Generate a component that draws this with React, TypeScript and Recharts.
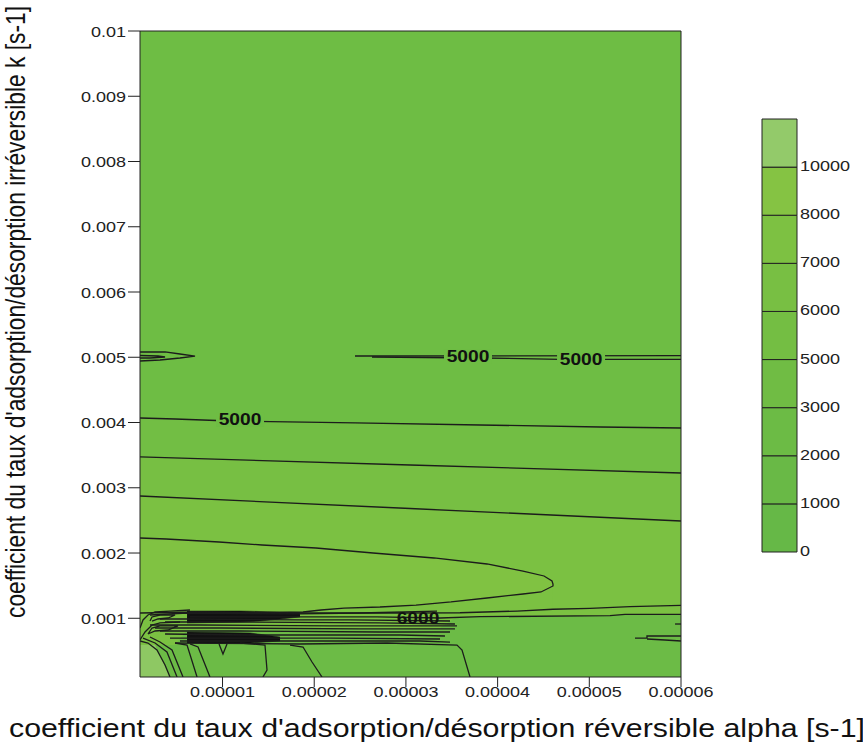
import React from 'react';
import { ComposedChart, Area, Line, Scatter, XAxis, YAxis, BarChart, Bar } from 'recharts';

type Pt = [number, number];
type BandPt = [number, number, number];

const FONT = '"Liberation Sans", Arial, Helvetica, sans-serif';

// axes
const alphaDomain: [number, number] = [1e-6, 6e-5];
const kDomain: [number, number] = [1e-4, 1e-2];
const xTicks = [1e-5, 2e-5, 3e-5, 4e-5, 5e-5, 6e-5];
const xTickLabels = ['0.00001', '0.00002', '0.00003', '0.00004', '0.00005', '0.00006'];
const yTicks = [0.001, 0.002, 0.003, 0.004, 0.005, 0.006, 0.007, 0.008, 0.009, 0.01];
const yTickLabels = ['0.001', '0.002', '0.003', '0.004', '0.005', '0.006', '0.007', '0.008', '0.009', '0.01'];

// colour scale (bottom -> top)
const colorbarLabels = ['0', '1000', '2000', '3000', '5000', '6000', '7000', '8000', '10000'];
const colorbarColors = ['#66b847', '#69b946', '#6cbb45', '#70bc44', '#74be43', '#78bf43', '#7dc142', '#85c343', '#93ca6a'];

// contour lines, [alpha, k]
const lensTop: Pt[] = [[1.0e-6, 5.081e-3], [3.73e-6, 5.081e-3], [5.36e-6, 5.05e-3], [7.0e-6, 5.019e-3], [5.36e-6, 4.989e-3], [3.18e-6, 4.958e-3], [1.0e-6, 4.943e-3]];
const lensTopInner: Pt[] = [[1.0e-6, 5.027e-3], [2.96e-6, 5.019e-3], [3.73e-6, 5.004e-3], [2.09e-6, 4.989e-3], [1.0e-6, 4.989e-3]];
const line5000a: Pt[] = [[24.45e-6, 5.019e-3], [60.0e-6, 5.024e-3]];
const line5000b: Pt[] = [[26.3e-6, 5.004e-3], [38.08e-6, 4.989e-3], [46.81e-6, 4.969e-3], [60.0e-6, 4.969e-3]];
const line5000c: Pt[] = [[1.0e-6, 4.069e-3], [4.82e-6, 4.054e-3], [10.82e-6, 4.023e-3], [24.45e-6, 3.993e-3], [38.08e-6, 3.962e-3], [51.17e-6, 3.931e-3], [60.0e-6, 3.916e-3]];
const contourC: Pt[] = [[1.0e-6, 3.472e-3], [30.45e-6, 3.349e-3], [60.0e-6, 3.226e-3]];
const contourD: Pt[] = [[1.0e-6, 2.874e-3], [30.45e-6, 2.682e-3], [60.0e-6, 2.491e-3]];
const noseUpper: Pt[] = [[1.0e-6, 2.23e-3], [3.84e-6, 2.215e-3], [9.62e-6, 2.169e-3], [14.31e-6, 2.123e-3], [20.19e-6, 2.077e-3], [26.41e-6, 2.0e-3], [33.06e-6, 1.924e-3], [38.84e-6, 1.832e-3], [42.77e-6, 1.724e-3], [45.06e-6, 1.648e-3], [45.93e-6, 1.571e-3], [46.04e-6, 1.525e-3]];
const noseLower: Pt[] = [[1.0e-6, 1.081e-3], [7.54e-6, 1.096e-3], [13.0e-6, 1.081e-3], [18.78e-6, 1.096e-3], [20.74e-6, 1.127e-3], [23.25e-6, 1.157e-3], [27.17e-6, 1.173e-3], [31.1e-6, 1.203e-3], [34.92e-6, 1.25e-3], [38.84e-6, 1.311e-3], [42.77e-6, 1.372e-3], [44.73e-6, 1.403e-3], [46.04e-6, 1.495e-3]];
const contourF: Pt[] = [[6.45e-6, 1.096e-3], [18.45e-6, 1.081e-3], [29.36e-6, 1.081e-3], [35.9e-6, 1.085e-3], [42.12e-6, 1.111e-3], [46.04e-6, 1.138e-3], [50.08e-6, 1.153e-3], [54.44e-6, 1.177e-3], [60.0e-6, 1.198e-3]];
const line6000: Pt[] = [[6.45e-6, 1.02e-3], [18.45e-6, 1.02e-3], [26.85e-6, 1.02e-3], [33.72e-6, 1.004e-3], [38.08e-6, 1.024e-3], [52.26e-6, 1.04e-3], [53.89e-6, 1.061e-3], [60.0e-6, 1.061e-3]];
const dense1: Pt[] = [[2.09e-6, 1.05e-3], [6.13e-6, 1.081e-3], [18.45e-6, 1.066e-3], [24.99e-6, 1.081e-3], [33.39e-6, 1.111e-3]];
const dense2: Pt[] = [[3.18e-6, 0.989e-3], [6.13e-6, 0.989e-3], [18.45e-6, 0.974e-3], [23.9e-6, 0.974e-3], [34.81e-6, 0.958e-3]];
const dense3: Pt[] = [[3.73e-6, 0.943e-3], [10.82e-6, 0.943e-3], [27.17e-6, 0.928e-3], [35.35e-6, 0.912e-3]];
const dense4: Pt[] = [[2.09e-6, 0.897e-3], [7.54e-6, 0.897e-3], [21.72e-6, 0.882e-3], [35.57e-6, 0.882e-3]];
const dense5: Pt[] = [[2.64e-6, 0.851e-3], [9.72e-6, 0.851e-3], [24.99e-6, 0.836e-3], [35.35e-6, 0.836e-3]];
const dense6: Pt[] = [[3.18e-6, 0.805e-3], [11.91e-6, 0.805e-3], [27.17e-6, 0.79e-3], [34.81e-6, 0.79e-3]];
const dense7: Pt[] = [[3.73e-6, 0.759e-3], [13.0e-6, 0.744e-3], [29.36e-6, 0.744e-3], [34.26e-6, 0.728e-3]];
const dense8: Pt[] = [[4.27e-6, 0.697e-3], [14.09e-6, 0.697e-3], [21.72e-6, 0.697e-3], [33.72e-6, 0.682e-3]];
const dense9: Pt[] = [[5.36e-6, 0.652e-3], [18.45e-6, 0.652e-3], [31.54e-6, 0.652e-3], [34.81e-6, 0.636e-3]];
const denseEdge: Pt[] = [[4.82e-6, 0.621e-3], [18.45e-6, 0.606e-3], [27.94e-6, 0.621e-3], [35.57e-6, 0.59e-3], [36.12e-6, 0.514e-3], [36.99e-6, 0.1e-3]];
const loopOuter: Pt[] = [[1.0e-6, 0.851e-3], [1.33e-6, 0.974e-3], [1.87e-6, 1.05e-3], [2.64e-6, 1.096e-3], [4.27e-6, 1.111e-3], [6.45e-6, 1.127e-3]];
const loop1: Pt[] = [[2.09e-6, 0.958e-3], [2.31e-6, 1.02e-3], [3.18e-6, 1.05e-3], [4.82e-6, 1.05e-3], [4.05e-6, 1.004e-3], [2.96e-6, 0.989e-3], [2.31e-6, 0.958e-3]];
const loop2: Pt[] = [[1.87e-6, 0.759e-3], [2.31e-6, 0.851e-3], [3.18e-6, 0.882e-3], [5.14e-6, 0.882e-3], [4.05e-6, 0.82e-3], [2.64e-6, 0.805e-3], [1.87e-6, 0.759e-3]];
const loop2Outer: Pt[] = [[1.0e-6, 0.667e-3], [1.55e-6, 0.79e-3], [2.31e-6, 0.897e-3], [3.18e-6, 0.928e-3], [5.36e-6, 0.943e-3]];
const diag1: Pt[] = [[1.0e-6, 0.652e-3], [1.87e-6, 0.621e-3], [2.85e-6, 0.514e-3], [3.73e-6, 0.284e-3], [4.27e-6, 0.1e-3]];
const diag2: Pt[] = [[1.33e-6, 0.697e-3], [2.64e-6, 0.621e-3], [3.94e-6, 0.483e-3], [5.04e-6, 0.1e-3]];
const diag3: Pt[] = [[2.09e-6, 0.713e-3], [3.18e-6, 0.636e-3], [4.49e-6, 0.514e-3], [5.69e-6, 0.1e-3]];
const diag4: Pt[] = [[4.82e-6, 0.621e-3], [6.13e-6, 0.59e-3], [7.22e-6, 0.1e-3]];
const diag5: Pt[] = [[6.45e-6, 0.606e-3], [7.33e-6, 0.56e-3], [8.63e-6, 0.1e-3]];
const notch: Pt[] = [[9.62e-6, 0.606e-3], [10.05e-6, 0.453e-3], [10.49e-6, 0.606e-3]];
const drop1: Pt[] = [[11.91e-6, 0.621e-3], [14.63e-6, 0.59e-3], [14.85e-6, 0.207e-3], [14.41e-6, 0.1e-3]];
const drop2: Pt[] = [[17.36e-6, 0.59e-3], [18.78e-6, 0.56e-3], [19.76e-6, 0.33e-3], [20.85e-6, 0.1e-3]];
const rightLens1: Pt[] = [[54.98e-6, 0.697e-3], [56.29e-6, 0.697e-3], [56.29e-6, 0.728e-3], [60.0e-6, 0.728e-3]];
const rightLens2: Pt[] = [[56.29e-6, 0.682e-3], [58.25e-6, 0.667e-3], [60.0e-6, 0.652e-3]];
const rightTick: Pt[] = [[59.35e-6, 0.912e-3], [60.0e-6, 0.912e-3]];

// zone boundaries used for the fills
const plotTop: Pt[] = [[1.0e-6, 1.0e-2], [60.0e-6, 1.0e-2]];
const darkZone: Pt[] = [[1.0e-6, 0.59e-3], [4.82e-6, 0.59e-3], [6.13e-6, 0.82e-3], [33.72e-6, 0.851e-3], [35.35e-6, 1.004e-3], [38.08e-6, 1.024e-3], [52.26e-6, 1.04e-3], [53.89e-6, 1.061e-3], [60.0e-6, 1.061e-3]];
const cornerZone: Pt[] = [[1.0e-6, 0.59e-3], [2.64e-6, 0.59e-3], [4.27e-6, 0.1e-3]];
const blackBand1: BandPt[] = [[6.13e-6, 0.928e-3, 1.111e-3], [11.91e-6, 0.943e-3, 1.111e-3], [14.09e-6, 0.958e-3, 1.104e-3], [18.45e-6, 1.02e-3, 1.089e-3]];
const blackBand2: BandPt[] = [[6.13e-6, 0.621e-3, 0.79e-3], [13.0e-6, 0.621e-3, 0.774e-3], [16.27e-6, 0.652e-3, 0.713e-3]];

// contour labels
const contourLabels = [
  { a: 36.77e-6, k: 5.012e-3, text: '5000' },
  { a: 49.1e-6, k: 4.966e-3, text: '5000' },
  { a: 11.91e-6, k: 4.039e-3, text: '5000' },
  { a: 31.32e-6, k: 0.989e-3, text: '6000' },
];

const zone = {
  top: '#6ebd44',
  bc: '#72be44',
  cd: '#77bf43',
  dn: '#7bc142',
  nose: '#80c242',
  dark: '#6cbb46',
  corner: '#8ec863',
};

const toRows = (pts: Pt[]) => pts.map(([a, k]) => ({ a, k }));
const toBand = (pts: BandPt[]) => pts.map(([a, lo, hi]) => ({ a, range: [lo, hi] }));

const fills = [
  { pts: plotTop, fill: zone.top },
  { pts: line5000c, fill: zone.bc },
  { pts: contourC, fill: zone.cd },
  { pts: contourD, fill: zone.dn },
  { pts: noseUpper, fill: zone.nose },
  { pts: noseLower, fill: zone.dn },
  { pts: darkZone, fill: zone.dark },
  { pts: cornerZone, fill: zone.corner },
];

const contourLines: Pt[][] = [
  lensTop, lensTopInner, line5000a, line5000b, line5000c, contourC, contourD,
  [...noseUpper, ...[...noseLower].reverse()],
  contourF, line6000,
  dense1, dense2, dense3, dense4, dense5, dense6, dense7, dense8, dense9, denseEdge,
  loopOuter, loop1, loop2, loop2Outer,
  diag1, diag2, diag3, diag4, diag5, notch, drop1, drop2,
  rightLens1, rightLens2, rightTick,
];

const labelOf = (values: number[], labels: string[], v: number) =>
  labels[values.findIndex((t) => Math.abs(t - v) < 1e-9)] ?? '';

function XTick({ x, y, payload }: any) {
  return (
    <g transform={`translate(${x},${y}) scale(1.2,1)`}>
      <text x={0} y={0} dy={8} textAnchor="middle" fontSize={15} fill="#222" fontFamily={FONT}>
        {labelOf(xTicks, xTickLabels, payload.value)}
      </text>
    </g>
  );
}

function YTick({ x, y, payload }: any) {
  return (
    <g transform={`translate(${x},${y}) scale(1.2,1)`}>
      <text x={0} y={0} dy={5.5} textAnchor="end" fontSize={15} fill="#222" fontFamily={FONT}>
        {labelOf(yTicks, yTickLabels, payload.value)}
      </text>
    </g>
  );
}

function ColorbarTick({ x, y, payload }: any) {
  return (
    <g transform={`translate(${x},${y}) scale(1.2,1)`}>
      <text x={0} y={0} dy={4} textAnchor="start" fontSize={15} fill="#222" fontFamily={FONT}>
        {colorbarLabels[payload.value]}
      </text>
    </g>
  );
}

function ContourLabel({ cx, cy, payload }: any) {
  const boxed = payload.text === '5000';
  return (
    <g transform={`translate(${cx},${cy}) scale(1.2,1)`}>
      {boxed && <rect x={-20} y={-7} width={40} height={14} fill={zone.top} />}
      <text x={0} y={0} dy={5.5} textAnchor="middle" fontSize={16} fontWeight="bold" fill="#111" fontFamily={FONT}>
        {payload.text}
      </text>
    </g>
  );
}

function XTitle() {
  return (
    <text x={9} y={737} fontSize={25} fill="#111" fontFamily={FONT} textLength={856} lengthAdjust="spacingAndGlyphs">
      coefficient du taux d'adsorption/désorption réversible alpha [s-1]
    </text>
  );
}

function YTitle() {
  return (
    <text
      transform="translate(25,312) rotate(-90) scale(1,1.2)"
      textAnchor="middle"
      fontSize={23}
      fill="#111"
      fontFamily={FONT}
      textLength={612}
      lengthAdjust="spacingAndGlyphs"
    >
      coefficient du taux d'adsorption/désorption irréversible k [s-1]
    </text>
  );
}

const colorbarRow: Record<string, number | string> = { name: 'scale' };
colorbarColors.forEach((_, i) => {
  colorbarRow[`b${i}`] = 1;
});
const colorbarTicks = colorbarLabels.map((_, i) => i);

const axisStroke = { stroke: '#222', strokeWidth: 1 };

export default function App() {
  return (
    <div style={{ position: 'absolute', left: 0, top: 0, width: 863, height: 747, background: '#fff' }}>
      <ComposedChart width={863} height={747} margin={{ top: 21, right: 170, bottom: 40, left: 0 }}>
        <XAxis
          dataKey="a"
          type="number"
          domain={alphaDomain}
          ticks={xTicks}
          interval={0}
          allowDataOverflow
          height={30}
          tickSize={10}
          tickMargin={2}
          axisLine={axisStroke}
          tickLine={axisStroke}
          tick={XTick}
          label={<XTitle />}
        />
        <XAxis
          xAxisId="top"
          orientation="top"
          dataKey="a"
          type="number"
          domain={alphaDomain}
          ticks={xTicks}
          interval={0}
          allowDataOverflow
          height={10}
          tickSize={9}
          axisLine={axisStroke}
          tickLine={axisStroke}
          tick={false}
        />
        <YAxis
          dataKey="k"
          type="number"
          domain={kDomain}
          ticks={yTicks}
          interval={0}
          allowDataOverflow
          width={140}
          tickSize={12}
          tickMargin={2}
          axisLine={axisStroke}
          tickLine={axisStroke}
          tick={YTick}
          label={<YTitle />}
        />
        <YAxis
          yAxisId="right"
          orientation="right"
          dataKey="k"
          type="number"
          domain={kDomain}
          ticks={yTicks}
          interval={0}
          allowDataOverflow
          width={12}
          tickSize={12}
          axisLine={axisStroke}
          tickLine={axisStroke}
          tick={false}
        />

        {fills.map((f, i) => (
          <Area
            key={`fill-${i}`}
            data={toRows(f.pts)}
            dataKey="k"
            type="linear"
            stroke="none"
            fill={f.fill}
            fillOpacity={1}
            dot={false}
            activeDot={false}
            isAnimationActive={false}
          />
        ))}
        {[blackBand1, blackBand2].map((b, i) => (
          <Area
            key={`band-${i}`}
            data={toBand(b)}
            dataKey="range"
            type="linear"
            stroke="#111"
            strokeWidth={0.5}
            fill="#111"
            fillOpacity={1}
            dot={false}
            activeDot={false}
            isAnimationActive={false}
          />
        ))}

        {contourLines.map((pts, i) => (
          <Line
            key={`line-${i}`}
            data={toRows(pts)}
            dataKey="k"
            type="linear"
            stroke="#1c1c1c"
            strokeWidth={1.3}
            dot={false}
            activeDot={false}
            isAnimationActive={false}
          />
        ))}

        <Scatter data={contourLabels} dataKey="k" shape={ContourLabel} isAnimationActive={false} />
      </ComposedChart>

      <div style={{ position: 'absolute', left: 740, top: 100 }}>
        <BarChart width={123} height={460} data={[colorbarRow]} margin={{ top: 19, right: 6, bottom: 8, left: 22 }} barCategoryGap={0}>
          <XAxis dataKey="name" hide />
          <YAxis
            orientation="right"
            type="number"
            domain={[0, 9]}
            ticks={colorbarTicks}
            interval={0}
            width={60}
            tickSize={3}
            tickMargin={0}
            tickLine={false}
            axisLine={false}
            tick={ColorbarTick}
          />
          {colorbarColors.map((c, i) => (
            <Bar key={`b${i}`} dataKey={`b${i}`} stackId="c" fill={c} stroke="#222" strokeWidth={1} isAnimationActive={false} />
          ))}
        </BarChart>
      </div>
    </div>
  );
}
